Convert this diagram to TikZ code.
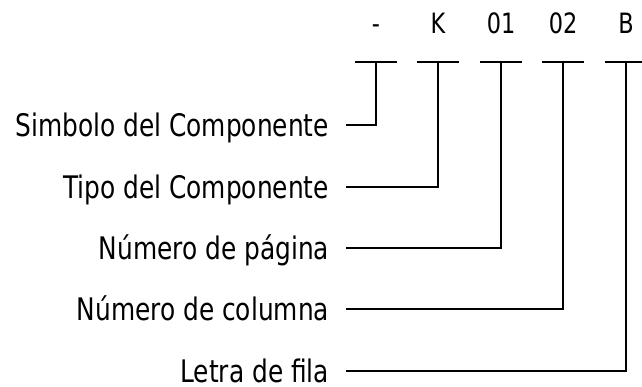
\documentclass[tikz,border=0pt]{standalone}
\usepackage{fontspec}
\setmainfont{DejaVu Sans}
\newfontfamily\lblfont{DejaVu Sans}[FakeStretch=0.8]
\usetikzlibrary{positioning}

\begin{document}
\begin{tikzpicture}[
  x=0.75pt, y=-0.75pt,
  code/.style={font=\lblfont\fontsize{21}{25}\selectfont, inner sep=0pt,
               text height=15.2pt, text depth=0pt},
  lbl/.style={anchor=east, font=\lblfont\fontsize{23.3}{28}\selectfont,
              inner sep=0pt, outer xsep=12.75pt,
              text height=17pt, text depth=0pt},
  bar/.style={line width=2pt},
  link/.style={line width=2pt}
]
  \useasboundingbox (0,0) rectangle (642,386);

  % code characters
  \node[code] (cdash) at (376,23) {-};
  \node[code] (ctipo) at (438,23) {K};
  \node[code] (cpag)  at (501,23) {01};
  \node[code] (ccol)  at (563,23) {02};
  \node[code] (cfila) at (626,23) {B};

  % underscores
  \coordinate (bdash) at (376,62);
  \coordinate (btipo) at (438,62);
  \coordinate (bpag)  at (501,62);
  \coordinate (bcol)  at (563,62);
  \coordinate (bfila) at (626,62);
  \foreach \b in {bdash,btipo,bpag,bcol,bfila}
    \draw[bar] (\b) ++(-21,0) -- ++(42,0);

  % labels
  \node[lbl] (lsim)  at (346,125) {Simbolo del Componente};
  \node[lbl] (ltipo) at (346,187) {Tipo del Componente};
  \node[lbl] (lpag)  at (346,248) {Número de página};
  \node[lbl] (lcol)  at (346,309) {Número de columna};
  \node[lbl] (lfila) at (346,371) {Letra de fila};

  \draw[link] (bdash) |- (lsim.east);
  \draw[link] (btipo) |- (ltipo.east);
  \draw[link] (bpag)  |- (lpag.east);
  \draw[link] (bcol)  |- (lcol.east);
  \draw[link] (bfila) |- (lfila.east);
\end{tikzpicture}
\end{document}
